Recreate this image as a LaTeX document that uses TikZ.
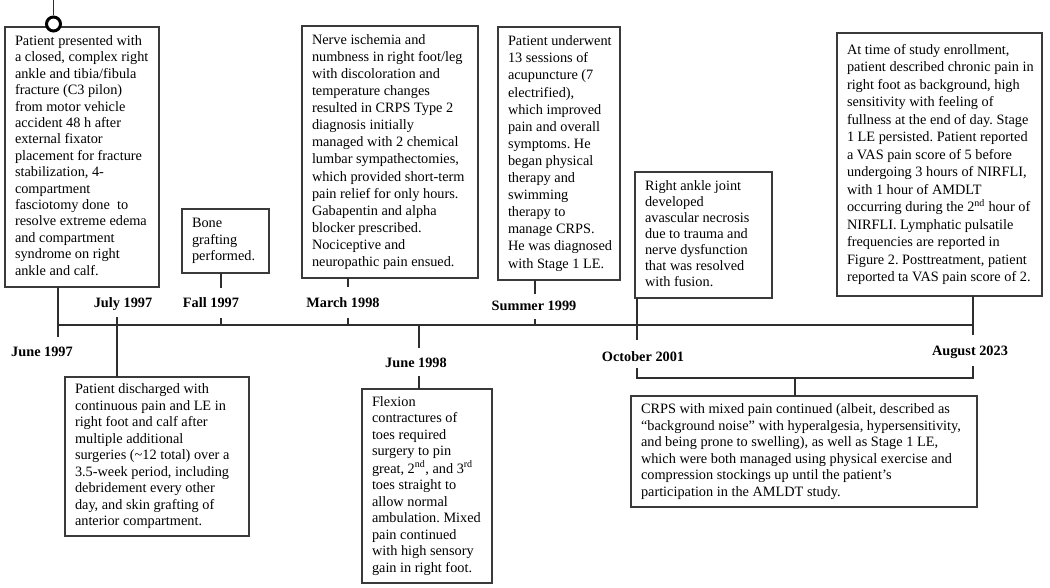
\documentclass[tikz,border=0pt]{standalone}
\usepackage{fontspec}
\setmainfont{Liberation Serif}
\frenchspacing
\definecolor{boxgray}{HTML}{3A3A3A}
\definecolor{linegray}{HTML}{2E2E2E}
\newcommand{\boxlines}[3]{\fontsize{14.3pt}{#2}\selectfont\frenchspacing\makebox[#1][l]{\begin{tabular}{@{}l@{}}#3\end{tabular}}}
\tikzset{
  evbox/.style={draw=boxgray, line width=1.2pt, anchor=north west, inner xsep=10pt, inner ysep=0pt, outer sep=0pt, fill=white},
  datelbl/.style={font=\fontsize{14.3pt}{16pt}\selectfont\bfseries, inner sep=0pt},
  conn/.style={draw=linegray, line width=1.1pt},
}
\begin{document}
\begin{tikzpicture}[x=1pt, y=-1pt]
\fill[white] (0,0) rectangle (1050,588);
\useasboundingbox (0,0) rectangle (1050,588);

% timeline
\coordinate (tlA) at (58,325);
\coordinate (tlB) at (973,325);
\draw[conn] (tlA) -- (tlB);

% boxes
\node[evbox, minimum width=154pt, minimum height=260pt] (b1) at (5,27) {\boxlines{134pt}{16.4pt}{
Patient presented with\\
a closed, complex right\\
ankle and tibia/fibula\\
fracture (C3 pilon)\\
from motor vehicle\\
accident 48 h after\\
external fixator\\
placement for fracture\\
stabilization, 4-\\
compartment\\
fasciotomy done\ \ to\\
resolve extreme edema\\
and compartment\\
syndrome on right\\
ankle and calf.}};

\node[evbox, minimum width=184pt, minimum height=159pt] (b2) at (65,377) {\boxlines{164pt}{16.5pt}{
Patient discharged with\\
continuous pain and LE in\\
right foot and calf after\\
multiple additional\\
surgeries (\textasciitilde12 total) over a\\
3.5-week period, including\\
debridement every other\\
day, and skin grafting of\\
anterior compartment.}};

\node[evbox, minimum width=87pt, minimum height=64pt] (b3) at (182,209) {\boxlines{67pt}{16.5pt}{
Bone\\
grafting\\
performed.}};

\node[evbox, minimum width=176pt, minimum height=252pt] (b4) at (302,26) {\boxlines{156pt}{17.1pt}{
Nerve ischemia and\\
numbness in right foot/leg\\
with discoloration and\\
temperature changes\\
resulted in CRPS Type 2\\
diagnosis initially\\
managed with 2 chemical\\
lumbar sympathectomies,\\
which provided short-term\\
pain relief for only hours.\\
Gabapentin and alpha\\
blocker prescribed.\\
Nociceptive and\\
neuropathic pain ensued.}};

\node[evbox, minimum width=122pt, minimum height=253pt] (b5) at (498,27) {\boxlines{102pt}{17.1pt}{
Patient underwent\\
13 sessions of\\
acupuncture (7\\
electrified),\\
which improved\\
pain and overall\\
symptoms. He\\
began physical\\
therapy and\\
swimming\\
therapy to\\
manage CRPS.\\
He was diagnosed\\
with Stage 1 LE.}};

\node[evbox, minimum width=130pt, minimum height=194pt] (b7) at (362,389) {\boxlines{110pt}{16.5pt}{
Flexion\\
contractures of\\
toes required\\
surgery to pin\\
great, 2\textsuperscript{nd}, and 3\textsuperscript{rd}\\
toes straight to\\
allow normal\\
ambulation. Mixed\\
pain continued\\
with high sensory\\
gain in right foot.}};

\node[evbox, minimum width=137pt, minimum height=126pt] (bAnk) at (635,172) {\boxlines{117pt}{16pt}{
Right ankle joint\\
developed\\
avascular necrosis\\
due to trauma and\\
nerve dysfunction\\
that was resolved\\
with fusion.}};

\node[evbox, minimum width=205pt, minimum height=263pt] (b6) at (837,33) {\boxlines{185pt}{17.5pt}{
At time of study enrollment,\\
patient described chronic pain in\\
right foot as background, high\\
sensitivity with feeling of\\
fullness at the end of day. Stage\\
1 LE persisted. Patient reported\\
a VAS pain score of 5 before\\
undergoing 3 hours of NIRFLI,\\
with 1 hour of AMDLT\\
occurring during the 2\textsuperscript{nd} hour of\\
NIRFLI. Lymphatic pulsatile\\
frequencies are reported in\\
Figure 2. Posttreatment, patient\\
reported ta VAS pain score of 2.}};

\node[evbox, minimum width=346pt, minimum height=111pt] (b8) at (631,396) {\boxlines{326pt}{16.5pt}{
CRPS with mixed pain continued (albeit, described as\\
“background noise” with hyperalgesia, hypersensitivity,\\
and being prone to swelling), as well as Stage 1 LE,\\
which were both managed using physical exercise and\\
compression stockings up until the patient’s\\
participation in the AMLDT study.}};

% start marker
\coordinate (top0) at (53.5,0);
\node[circle, draw=black, fill=white, line width=3pt, minimum size=14pt, inner sep=0pt] (c0) at (53.5,24) {};
\draw[conn] (top0) -- (c0.north);

% date labels
\node[datelbl] (dJun97) at (42,352) {June 1997};
\node[datelbl] (dJul97) at (123,304) {July 1997};
\node[datelbl] (dFall97) at (211,303) {Fall 1997};
\node[datelbl] (dMar98) at (343,303) {March 1998};
\node[datelbl] (dSum99) at (534,306) {Summer 1999};
\node[datelbl] (dJun98) at (416,363) {June 1998};
\node[datelbl] (dOct01) at (643,357) {October 2001};
\node[datelbl] (dAug23) at (970,352) {August 2023};

% June 1997
\coordinate (k1) at (58,337);
\draw[conn] (b1.south -| tlA) -- (k1);

% July 1997
\coordinate (j1) at (117,317);
\draw[conn] (j1) -- (b2.north -| j1);

% Fall 1997
\coordinate (f1) at (221,288);
\coordinate (f2) at (221,318);
\coordinate (f3) at (221,325);
\draw[conn] (b3.south -| f1) -- (f1);
\draw[conn] (f2) -- (f3);

% March 1998
\coordinate (m1) at (348,287);
\coordinate (m2) at (348,318);
\coordinate (m3) at (348,325);
\draw[conn] (b4.south -| m1) -- (m1);
\draw[conn] (m2) -- (m3);

% Summer 1999
\coordinate (s1) at (535,294);
\coordinate (s2) at (535,319);
\coordinate (s3) at (535,325);
\draw[conn] (b5.south -| s1) -- (s1);
\draw[conn] (s2) -- (s3);

% June 1998
\coordinate (u1) at (419,325);
\coordinate (u2) at (419,348);
\coordinate (u3) at (419,376);
\draw[conn] (u1) -- (u2);
\draw[conn] (u3) -- (b7.north -| u3);

% October 2001
\coordinate (o1) at (637,340);
\draw[conn] (bAnk.south -| o1) -- (o1);

% August 2023
\coordinate (a1) at (973,335);
\draw[conn] (b6.south -| a1) -- (a1);

% bracket
\coordinate (brL) at (637,368);
\coordinate (brR) at (973,366);
\coordinate (brM) at (795,378);
\draw[conn] (brL) |- (brM) -| (brR);
\draw[conn] (brM) -- (b8.north -| brM);
\end{tikzpicture}
\end{document}
